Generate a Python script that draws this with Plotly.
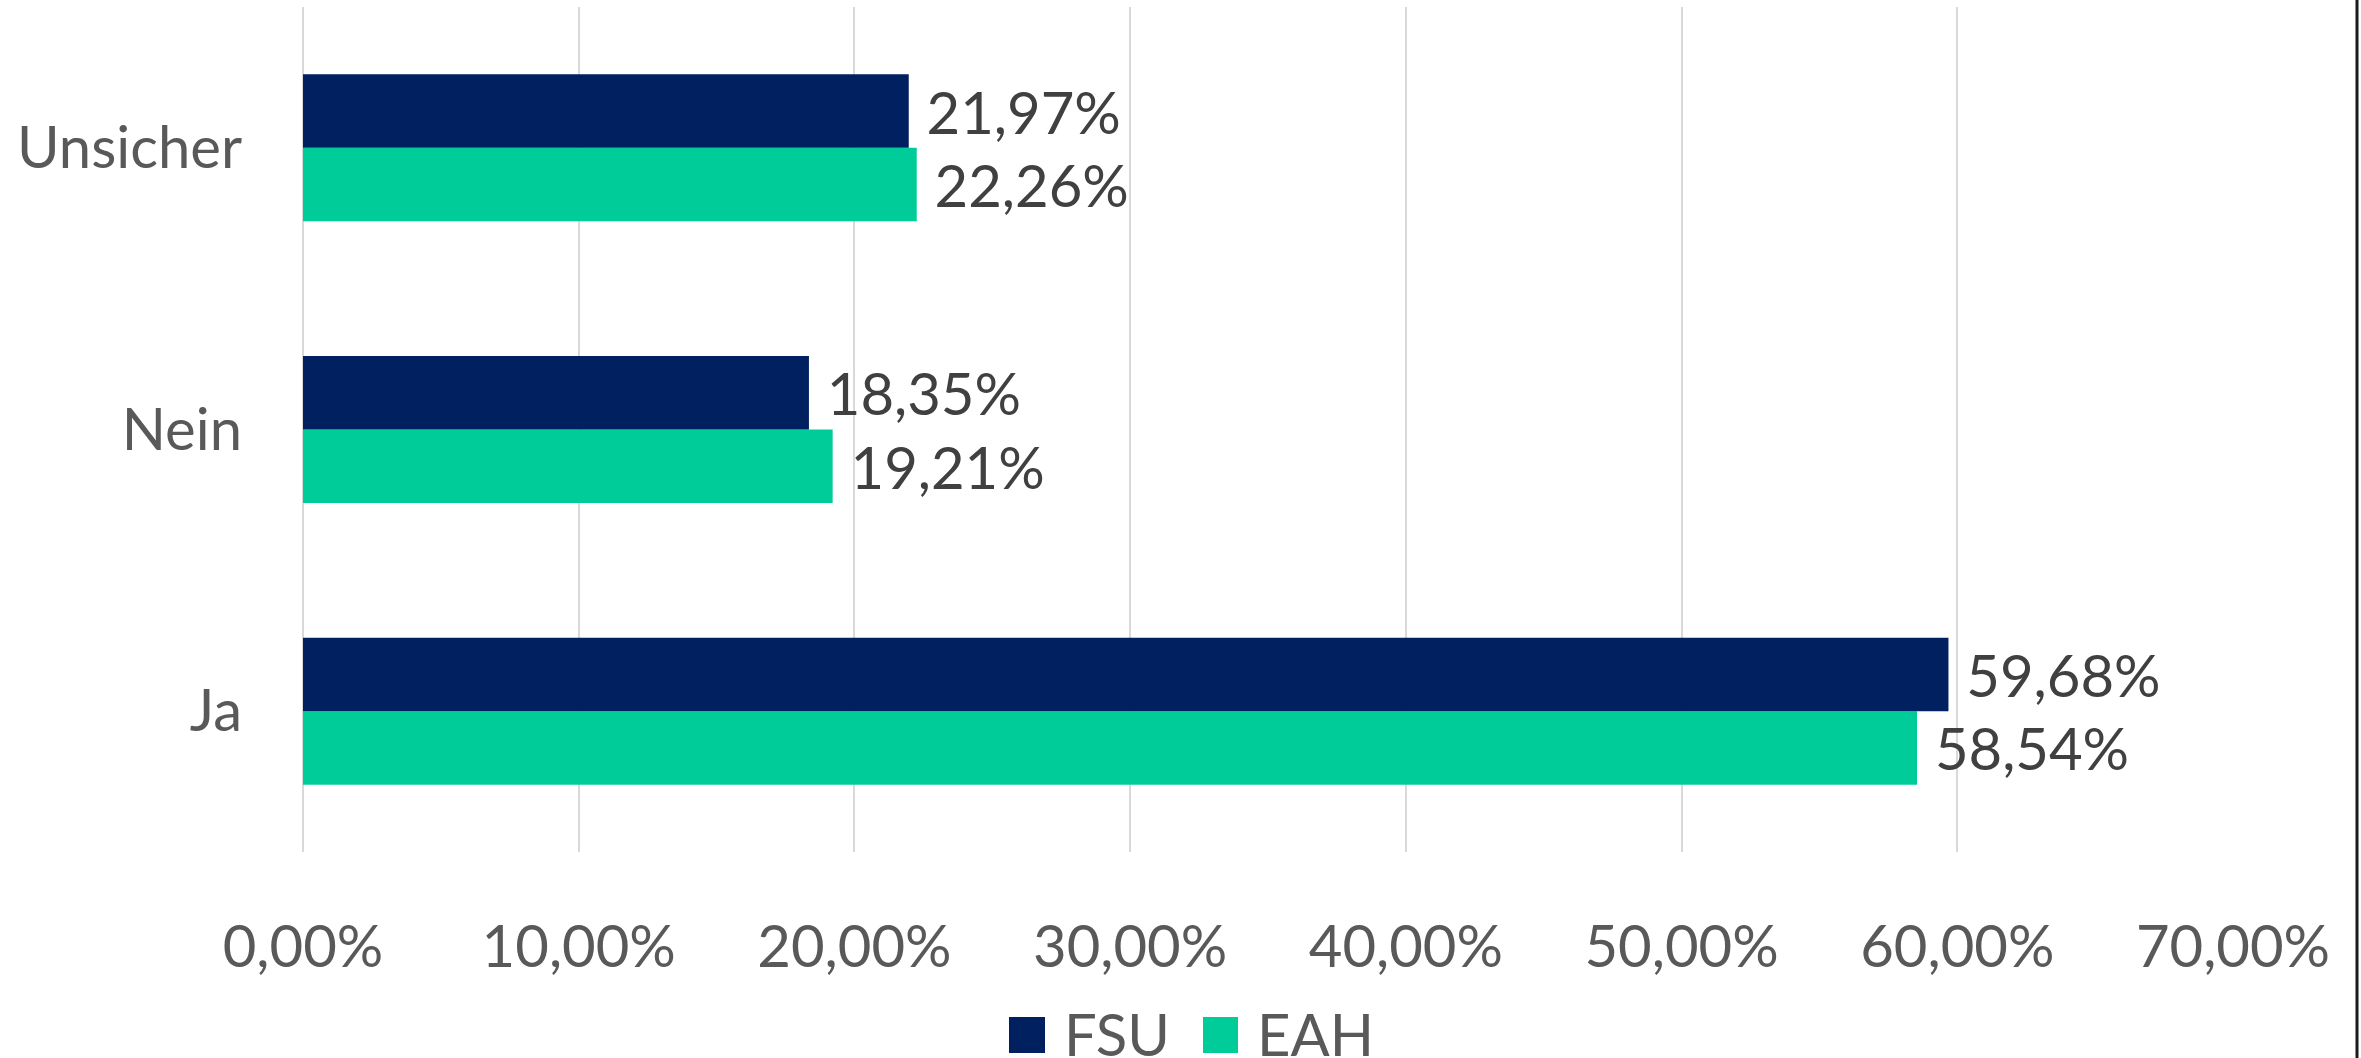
import plotly.graph_objects as go

categories = ["Ja", "Nein", "Unsicher"]
fsu_values = [0.5968, 0.1835, 0.2197]
eah_values = [0.5854, 0.1921, 0.2226]
series_names = ["FSU", "EAH"]
series_colors = ["#002060", "#00CC99"]
tick_values = [0, 0.1, 0.2, 0.3, 0.4, 0.5, 0.6, 0.7]

FONT = "Lato, 'Open Sans', sans-serif"
FS = 58

fig = go.Figure()
for name, vals, col in [(series_names[1], eah_values, series_colors[1]),
                        (series_names[0], fsu_values, series_colors[0])]:
    fig.add_trace(go.Bar(
        y=categories, x=vals, name=name, orientation="h",
        marker=dict(color=col, line=dict(width=0)),
        texttemplate="\u00a0%{x:.2%}", textposition="outside",
        textfont=dict(family=FONT, size=FS, color="#404040"),
        constraintext="none", cliponaxis=False, showlegend=False,
    ))

fig.update_layout(
    width=2361, height=1058,
    margin=dict(l=303, r=128, t=7, b=206),
    paper_bgcolor="white", plot_bgcolor="white",
    barmode="group", bargap=0.478, bargroupgap=0,
    separators=",.",
    font=dict(family=FONT, size=FS, color="#595959"),
    xaxis=dict(range=[0, 0.7], tickvals=tick_values, tickformat=".2%",
               showgrid=True, gridcolor="#D9D9D9", gridwidth=2,
               zeroline=True, zerolinecolor="#D9D9D9", zerolinewidth=2,
               showline=False, ticks="", ticklabelstandoff=56,
               tickfont=dict(family=FONT, size=FS, color="#595959")),
    yaxis=dict(showgrid=False, zeroline=False, showline=False, ticks="",
               ticklabelstandoff=60,
               tickfont=dict(family=FONT, size=FS, color="#595959")),
)

# Legend (drawn manually to match large square swatches)
def px_to_paper_x(px):
    return (px - 303) / (2361 - 303 - 128)

def px_to_paper_y(py):
    return (1058 - 206 - py) / (1058 - 7 - 206)

legend_items = [(series_names[0], series_colors[0], 1009, 1045, 1062),
                (series_names[1], series_colors[1], 1203, 1238, 1255)]
for name, col, x0, x1, tx in legend_items:
    fig.add_shape(type="rect", xref="paper", yref="paper",
                  x0=px_to_paper_x(x0), x1=px_to_paper_x(x1),
                  y0=px_to_paper_y(1053), y1=px_to_paper_y(1017),
                  fillcolor=col, line=dict(width=0))
    fig.add_annotation(xref="paper", yref="paper", x=px_to_paper_x(tx),
                       y=px_to_paper_y(1033), xanchor="left", yanchor="middle",
                       text=name, showarrow=False,
                       font=dict(family=FONT, size=FS, color="#595959"))

# Right border line of the chart frame
fig.add_shape(type="line", xref="paper", yref="paper",
              x0=px_to_paper_x(2357), x1=px_to_paper_x(2357),
              y0=px_to_paper_y(1058), y1=px_to_paper_y(0),
              line=dict(color="#1A1A1A", width=3))

fig.write_html("out.html", config={"displayModeBar": False},
               post_script="document.body.style.margin='0';document.body.style.overflow='hidden';")
